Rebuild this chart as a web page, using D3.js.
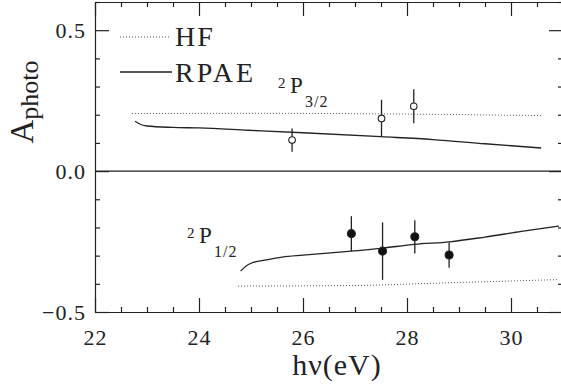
<!DOCTYPE html>
<html>
<head>
<meta charset="utf-8">
<script src="https://cdn.jsdelivr.net/npm/d3@7"></script>
</head>
<body style="margin:0">
<script>
// Data
var xMajor = [22, 24, 26, 28, 30];
var yMajor = [-0.5, 0.0, 0.5];

// 2P3/2 curves
var hf32E = [22.71, 25.0, 27.5, 30.58];
var hf32A = [0.204, 0.205, 0.203, 0.197];
var rpae32E = [22.77, 22.85, 23.0, 23.5, 24.0, 24.94, 26.0, 27.5, 28.5, 29.5, 30.58];
var rpae32A = [0.177, 0.168, 0.160, 0.155, 0.153, 0.145, 0.136, 0.122, 0.112, 0.097, 0.082];

// 2P1/2 curves
var hf12E = [24.75, 27.0, 28.5, 30.92];
var hf12A = [-0.408, -0.406, -0.398, -0.385];
var rpae12E = [24.8, 24.9, 25.0, 25.3, 25.6, 26.0, 26.93, 27.5, 28.15, 28.82, 29.5, 30.2, 30.92];
var rpae12A = [-0.355, -0.338, -0.327, -0.315, -0.305, -0.298, -0.284, -0.274, -0.260, -0.251, -0.234, -0.214, -0.195];

// measurements (open circles = 3/2, filled = 1/2)
var exp32E = [25.79, 27.51, 28.13];
var exp32A = [0.110, 0.187, 0.230];
var exp32Err = [0.041, 0.066, 0.060];
var exp12E = [26.93, 27.53, 28.15, 28.81];
var exp12A = [-0.222, -0.284, -0.233, -0.298];
var exp12Err = [0.062, 0.102, 0.059, 0.045];

var ink = "#222";
var face = "serif";
var svgWidth = 561, svgHeight = 387;
var margin = { top: 2, left: 95 };
var width = 468, height = 310;

var svg = d3.select("body").append("svg")
  .attr("width", svgWidth)
  .attr("height", svgHeight);

var g = svg.append("g")
  .attr("transform", `translate(${margin.left}, ${margin.top})`);

var x = d3.scaleLinear().domain([22, 31]).range([0, width]);
var y = d3.scaleLinear().domain([-0.5, 0.6]).range([height, 0]);

var xMinor = d3.range(22, 31.01, 0.5).filter(d => xMajor.indexOf(d) < 0);
var yMinor = d3.range(-5, 7).map(d => d / 10).filter(d => yMajor.indexOf(d) < 0);

// frame + ticks (all inward)
function addAxes(axisFn, transform, isX, labels) {
  var scale = isX ? x : y;
  var a = g.append("g").attr("transform", transform);
  a.call(axisFn(scale)
    .tickValues(isX ? xMajor : yMajor)
    .tickSizeInner(-14).tickSizeOuter(0)
    .tickPadding(isX ? 17 : 9)
    .tickFormat(labels ? (isX ? d3.format("d") : d3.format(".1f")) : ""));
  a.attr("font-family", face).attr("font-size", 22);
  a.selectAll("text").attr("letter-spacing", 1);
  var m = g.append("g").attr("transform", transform);
  m.call(axisFn(scale)
    .tickValues(isX ? xMinor : yMinor)
    .tickSizeInner(-5).tickSizeOuter(0).tickFormat(""));
  m.select(".domain").remove();
}
addAxes(d3.axisBottom, `translate(0, ${height})`, true, true);
addAxes(d3.axisTop, "translate(0, 0)", true, false);
addAxes(d3.axisLeft, "translate(0, 0)", false, true);
addAxes(d3.axisRight, `translate(${width}, 0)`, false, false);
g.selectAll(".domain, .tick line").attr("stroke", ink).attr("stroke-width", 1.2);

// zero line
g.append("line")
  .attr("x1", 0).attr("x2", width)
  .attr("y1", y(0)).attr("y2", y(0))
  .attr("stroke", ink).attr("stroke-width", 1.2);

var line = d3.line().x(d => x(d[0])).y(d => y(d[1])).curve(d3.curveMonotoneX);
function zip(a, b) { return a.map((v, i) => [v, b[i]]); }

function dotted(data) {
  g.append("path").datum(data).attr("d", line)
    .attr("fill", "none").attr("stroke", "#555")
    .attr("stroke-width", 1).attr("stroke-dasharray", "1,2");
}
function solid(data) {
  g.append("path").datum(data).attr("d", line)
    .attr("fill", "none").attr("stroke", ink)
    .attr("stroke-width", 1.3);
}
dotted(zip(hf32E, hf32A));
dotted(zip(hf12E, hf12A));
solid(zip(rpae32E, rpae32A));
solid(zip(rpae12E, rpae12A));

// error bars and points
function points(E, A, Err, filled) {
  var data = E.map((e, i) => ({ e: e, a: A[i], err: Err[i] }));
  g.selectAll(null).data(data).enter().append("line")
    .attr("x1", d => x(d.e)).attr("x2", d => x(d.e))
    .attr("y1", d => y(d.a + d.err)).attr("y2", d => y(d.a - d.err))
    .attr("stroke", ink).attr("stroke-width", 1.3);
  g.selectAll(null).data(data).enter().append("circle")
    .attr("cx", d => x(d.e)).attr("cy", d => y(d.a))
    .attr("r", filled ? 4 : 3.3)
    .attr("fill", filled ? "#111" : "#fff")
    .attr("stroke", ink).attr("stroke-width", 1.1);
}
points(exp32E, exp32A, exp32Err, false);
points(exp12E, exp12A, exp12Err, true);

// legend
svg.append("line").attr("x1", 120).attr("x2", 170).attr("y1", 37).attr("y2", 37)
  .attr("stroke", "#555").attr("stroke-width", 1).attr("stroke-dasharray", "1,2");
svg.append("text").attr("x", 175).attr("y", 46).attr("font-size", 28)
  .attr("letter-spacing", 2).text("HF");
svg.append("line").attr("x1", 120).attr("x2", 172).attr("y1", 72).attr("y2", 72)
  .attr("stroke", ink).attr("stroke-width", 1.3);
svg.append("text").attr("x", 175).attr("y", 82).attr("font-size", 28)
  .attr("letter-spacing", 3).text("RPAE");

// state labels
function stateLabel(xs, yb, sub) {
  svg.append("text").attr("x", xs).attr("y", yb - 5).attr("font-size", 15).text("2");
  svg.append("text").attr("x", xs + 12).attr("y", yb).attr("font-size", 23).text("P");
  svg.append("text").attr("x", xs + 27).attr("y", yb + 14).attr("font-size", 16)
    .attr("letter-spacing", 1).text(sub);
}
stateLabel(278, 93, "3/2");
stateLabel(187, 243, "1/2");

// axis titles
svg.append("text")
  .attr("x", 337).attr("y", 375)
  .attr("text-anchor", "middle")
  .attr("font-size", 30).attr("letter-spacing", 1)
  .text("h\u03bd(eV)");

var yt = svg.append("text")
  .attr("transform", "translate(33, 102) rotate(-90)")
  .attr("text-anchor", "middle");
yt.append("tspan").attr("font-size", 33).text("A");
yt.append("tspan").attr("font-size", 26).attr("dy", 5).text("photo");

svg.selectAll("text")
  .attr("font-family", face)
  .attr("fill", ink);
</script>
</body>
</html>
